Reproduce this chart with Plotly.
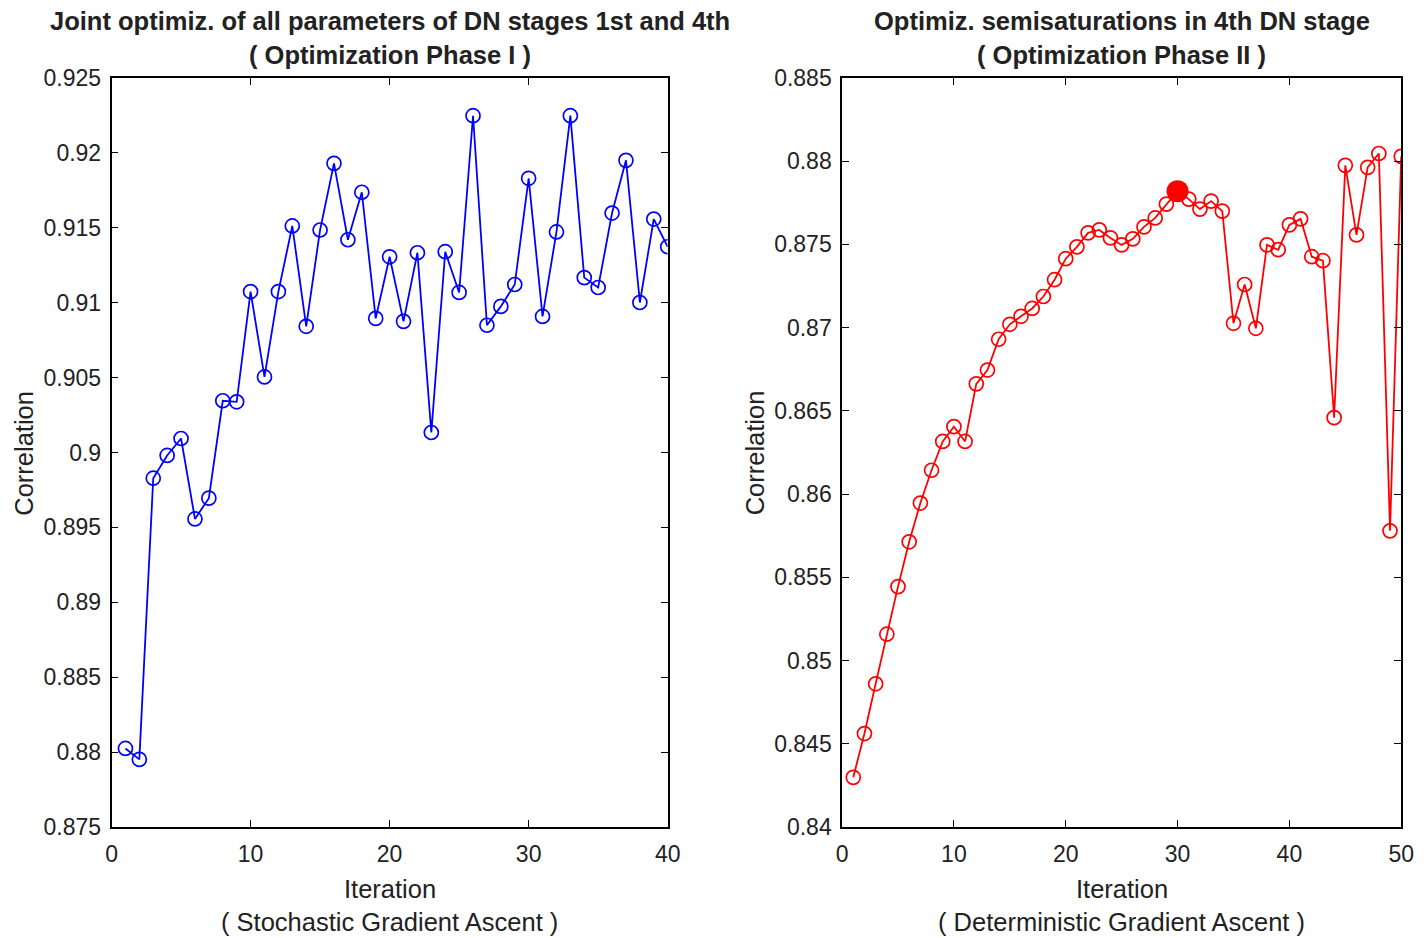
import plotly.graph_objects as go

iter_left = list(range(1, 41))
corr_left = [0.88024, 0.87951, 0.89828, 0.8998, 0.90093, 0.89556, 0.89695, 0.90345, 0.90338, 0.91074,
             0.90504, 0.91074, 0.91512, 0.90842, 0.91485, 0.9193, 0.9142, 0.91737, 0.90895, 0.91306,
             0.90875, 0.91333, 0.90133, 0.9134, 0.91068, 0.92248, 0.90849, 0.90975, 0.91121, 0.9183,
             0.90908, 0.91472, 0.92248, 0.91167, 0.91101, 0.91598, 0.9195, 0.91001, 0.91558, 0.91373]

iter_right = list(range(1, 51))
corr_right = [0.84298, 0.84561, 0.8486, 0.85158, 0.85444, 0.85713, 0.85946, 0.86143, 0.86316, 0.86405,
              0.86316, 0.86662, 0.86745, 0.8693, 0.8702, 0.87068, 0.87115, 0.87187, 0.87288, 0.87414,
              0.87485, 0.87569, 0.87587, 0.87539, 0.87497, 0.87533, 0.87605, 0.87659, 0.87742, 0.8782,
              0.87772, 0.87712, 0.8776, 0.877, 0.87026, 0.87259, 0.86996, 0.87497, 0.87468, 0.87617,
              0.87653, 0.87426, 0.87402, 0.86459, 0.87975, 0.87557, 0.87963, 0.88046, 0.85779, 0.88029]
best_iter = 30

left_yticks = [0.875, 0.88, 0.885, 0.89, 0.895, 0.9, 0.905, 0.91, 0.915, 0.92, 0.925]
left_ytext = ["0.875", "0.88", "0.885", "0.89", "0.895", "0.9", "0.905", "0.91", "0.915", "0.92", "0.925"]
right_yticks = [0.84, 0.845, 0.85, 0.855, 0.86, 0.865, 0.87, 0.875, 0.88, 0.885]
right_ytext = ["0.84", "0.845", "0.85", "0.855", "0.86", "0.865", "0.87", "0.875", "0.88", "0.885"]

FONT = "Liberation Sans, Arial, sans-serif"
W, H = 1427, 938

def px(x):
    return ((x - 4.1) / 0.99) / W

def py(y):
    return 1 - ((y - 9.7) / 0.9775) / H

fig = go.Figure()
fig.add_trace(go.Scatter(x=iter_left, y=corr_left, mode="lines+markers",
                         line=dict(color="#0000ff", width=1.8),
                         marker=dict(symbol="circle-open", size=14, color="#0000ff", line=dict(width=1.7)),
                         xaxis="x", yaxis="y", showlegend=False))
fig.add_trace(go.Scatter(x=iter_right, y=corr_right, mode="lines+markers",
                         line=dict(color="#ff0000", width=1.8),
                         marker=dict(symbol="circle-open", size=14, color="#ff0000", line=dict(width=1.7)),
                         xaxis="x2", yaxis="y2", showlegend=False))
fig.add_trace(go.Scatter(x=[best_iter], y=[corr_right[best_iter - 1]], mode="markers",
                         marker=dict(symbol="circle", size=22, color="#ff0000"),
                         xaxis="x2", yaxis="y2", showlegend=False))

ydom = [py(828), py(75)]
axis_common = dict(showline=True, linecolor="black", linewidth=1.6, mirror="ticks",
                   ticks="inside", ticklen=7, tickwidth=1.3, tickcolor="black",
                   showgrid=False, zeroline=False,
                   tickfont=dict(family=FONT, size=23, color="#222"))

fig.update_layout(
    width=W, height=H, margin=dict(l=0, r=0, t=0, b=0),
    paper_bgcolor="white", plot_bgcolor="white",
    xaxis=dict(domain=[px(110), px(668)], range=[0, 40], tickvals=[0, 10, 20, 30, 40], anchor="y",
               ticklabelstandoff=6, **axis_common),
    yaxis=dict(domain=ydom, range=[0.875, 0.925], tickvals=left_yticks, ticktext=left_ytext, anchor="x",
               ticklabelstandoff=4, **axis_common),
    xaxis2=dict(domain=[px(843), px(1404)], range=[0, 50], tickvals=[0, 10, 20, 30, 40, 50], anchor="y2",
                ticklabelstandoff=6, **axis_common),
    yaxis2=dict(domain=ydom, range=[0.84, 0.885], tickvals=right_yticks, ticktext=right_ytext, anchor="x2",
                ticklabelstandoff=4, **axis_common),
)

def ann(text, x, y, size=25.5, bold=False, angle=0):
    fig.add_annotation(text=("<b>%s</b>" % text) if bold else text, x=px(x), y=py(y),
                       xref="paper", yref="paper", showarrow=False, textangle=angle,
                       font=dict(family=FONT, size=size, color="#222"), xanchor="center", yanchor="middle")

lc = (110 + 668) / 2
rc = (843 + 1404) / 2
ann("Joint optimiz. of all parameters of DN stages 1st and 4th", lc, 18, 25.5, True)
ann("( Optimization Phase I )", lc, 52, 25.5, True)
ann("Optimiz. semisaturations in 4th DN stage", rc, 18, 25.5, True)
ann("( Optimization Phase II )", rc, 52, 25.5, True)
ann("Iteration", lc, 890)
ann("( Stochastic Gradient Ascent )", lc, 924)
ann("Iteration", rc, 890)
ann("( Deterministic Gradient Ascent )", rc, 924)
ann("Correlation", 22, 452, angle=-90)
ann("Correlation", 756, 452, angle=-90)

fig.write_html("out.html")
